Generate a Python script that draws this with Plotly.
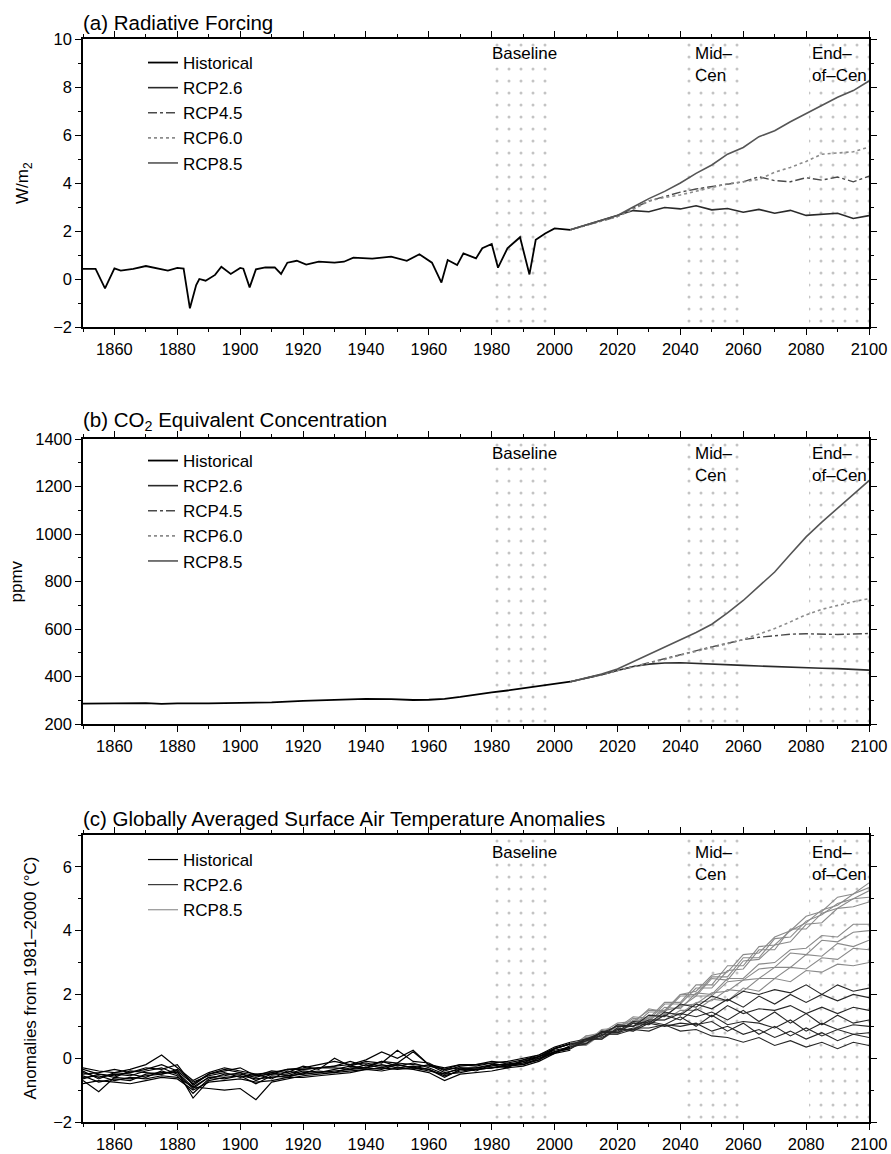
import plotly.graph_objects as go

# ---------------- (a) Radiative forcing (W/m2) ----------------
RF_HIST_YEARS = [1850, 1854, 1857, 1860, 1862, 1866, 1870, 1877, 1880, 1882,
                 1884, 1886, 1887, 1889, 1892, 1894, 1897, 1900, 1901, 1903,
                 1905, 1908, 1911, 1913, 1915, 1918, 1921, 1925, 1930, 1933,
                 1936, 1942, 1948, 1953, 1957, 1961, 1964, 1966, 1969, 1971,
                 1975, 1977, 1980, 1982, 1985, 1989, 1992, 1994, 1997, 2000,
                 2005]
RF_HIST = [0.42, 0.42, -0.39, 0.44, 0.35, 0.42, 0.54, 0.35, 0.46, 0.43,
           -1.22, -0.25, 0.0, -0.07, 0.17, 0.51, 0.21, 0.46, 0.43, -0.35,
           0.40, 0.48, 0.48, 0.21, 0.68, 0.76, 0.60, 0.72, 0.68, 0.72,
           0.89, 0.85, 0.93, 0.76, 1.03, 0.68, -0.15, 0.79, 0.58, 1.07,
           0.86, 1.28, 1.46, 0.47, 1.28, 1.74, 0.19, 1.63, 1.90, 2.11,
           2.05]

RF_RCP_YEARS = [2005, 2010, 2015, 2020, 2025, 2030, 2035, 2040, 2045, 2050,
                2055, 2060, 2065, 2070, 2075, 2080, 2085, 2090, 2095, 2100]
RF_RCP26 = [2.05, 2.25, 2.42, 2.62, 2.85, 2.80, 2.98, 2.92, 3.05, 2.88,
            2.94, 2.78, 2.90, 2.74, 2.86, 2.65, 2.70, 2.74, 2.52, 2.64]
RF_RCP45 = [2.05, 2.25, 2.42, 2.60, 2.95, 3.25, 3.45, 3.62, 3.75, 3.85,
            3.92, 4.05, 4.26, 4.10, 4.05, 4.22, 4.12, 4.25, 4.05, 4.28]
RF_RCP60 = [2.05, 2.25, 2.42, 2.60, 2.90, 3.25, 3.40, 3.50, 3.65, 3.80,
            3.97, 4.05, 4.15, 4.45, 4.65, 4.90, 5.20, 5.25, 5.30, 5.50]
RF_RCP85 = [2.05, 2.25, 2.42, 2.65, 3.00, 3.35, 3.65, 4.00, 4.40, 4.75,
            5.20, 5.48, 5.93, 6.18, 6.55, 6.90, 7.25, 7.57, 7.85, 8.25]

# ---------------- (b) CO2 equivalent concentration (ppmv) ----------------
CO2_HIST_YEARS = [1850, 1860, 1870, 1875, 1880, 1890, 1900, 1910, 1920, 1930,
                  1940, 1948, 1955, 1960, 1965, 1970, 1975, 1980, 1985, 1990,
                  1995, 2000, 2005]
CO2_HIST = [286, 287, 288, 285, 287, 287, 288, 291, 297, 302,
            306, 305, 301, 302, 306, 314, 325, 333, 341, 350,
            358, 367, 378]

CO2_RCP_YEARS = RF_RCP_YEARS
CO2_RCP26 = [378, 392, 408, 425, 442, 452, 457, 458, 456, 453,
             450, 447, 444, 441, 439, 437, 435, 433, 430, 427]
CO2_RCP45 = [378, 392, 408, 425, 442, 458, 475, 490, 508, 525,
             540, 555, 565, 573, 578, 580, 578, 577, 579, 581]
CO2_RCP60 = [378, 392, 408, 425, 440, 455, 472, 490, 505, 520,
             538, 556, 578, 602, 630, 660, 683, 700, 715, 728]
CO2_RCP85 = [378, 393, 410, 432, 462, 494, 525, 555, 585, 620,
             668, 720, 778, 840, 915, 988, 1050, 1108, 1165, 1225]

# ---------------- (c) Surface air temperature anomalies (deg C) ----------------
TAS_HIST_YEARS = list(range(1850, 2006, 5))
TAS_HIST = [
    [-0.45, -0.6, -0.5, -0.55, -0.4, -0.3, -0.5, -0.95, -0.6, -0.55, -0.45, -0.7, -0.5, -0.5, -0.35, -0.3,
     -0.25, -0.2, -0.15, -0.25, -0.2, -0.3, -0.2, -0.45, -0.35, -0.3, -0.2, -0.2, -0.1, 0.0, 0.2, 0.35],
    [-0.7, -1.05, -0.6, -0.65, -0.55, -0.5, -0.4, -1.25, -0.7, -0.6, -0.55, -0.65, -0.6, -0.55, -0.5, -0.45,
     -0.4, -0.35, -0.3, -0.2, -0.3, -0.25, -0.35, -0.55, -0.4, -0.35, -0.3, -0.25, -0.15, -0.05, 0.3, 0.45],
    [-0.3, -0.4, -0.45, -0.35, -0.2, 0.1, -0.3, -0.7, -0.45, -0.3, -0.4, -0.5, -0.45, -0.35, -0.3, -0.2,
     -0.1, -0.2, -0.05, 0.2, 0.0, 0.25, -0.2, -0.3, -0.2, -0.25, -0.15, -0.1, 0.0, 0.1, 0.35, 0.5],
    [-0.6, -0.55, -0.7, -0.6, -0.65, -0.55, -0.6, -0.9, -0.95, -1.0, -0.95, -1.3, -0.75, -0.65, -0.55, -0.5,
     -0.45, -0.4, -0.35, -0.3, -0.35, -0.3, -0.4, -0.5, -0.45, -0.35, -0.3, -0.25, -0.2, -0.05, 0.2, 0.3],
    [-0.8, -0.7, -0.75, -0.8, -0.7, -0.6, -0.65, -1.0, -0.75, -0.7, -0.65, -0.75, -0.7, -0.6, -0.6, -0.55,
     -0.5, -0.45, -0.35, -0.4, -0.3, -0.35, -0.45, -0.7, -0.5, -0.45, -0.4, -0.3, -0.25, -0.1, 0.15, 0.25],
    [-0.5, -0.45, -0.35, -0.45, -0.3, -0.35, -0.2, -0.85, -0.5, -0.4, -0.3, -0.55, -0.4, -0.45, -0.25, -0.35,
     0.0, -0.25, -0.1, -0.15, 0.25, -0.1, -0.15, -0.4, -0.25, -0.2, -0.1, -0.15, -0.05, 0.1, 0.3, 0.45],
    [-0.65, -0.5, -0.6, -0.4, -0.45, -0.5, -0.35, -0.75, -0.55, -0.45, -0.6, -0.5, -0.65, -0.4, -0.5, -0.3,
     -0.3, -0.35, -0.2, -0.3, -0.15, -0.2, -0.25, -0.35, -0.3, -0.4, -0.2, -0.3, -0.05, 0.05, 0.25, 0.35],
    [-0.4, -0.65, -0.45, -0.5, -0.6, -0.4, -0.55, -1.1, -0.65, -0.5, -0.5, -0.6, -0.45, -0.55, -0.4, -0.45,
     -0.35, -0.25, -0.3, -0.1, -0.25, -0.15, -0.3, -0.5, -0.3, -0.3, -0.25, -0.15, -0.2, 0.0, 0.15, 0.4],
    [-0.55, -0.75, -0.65, -0.7, -0.5, -0.45, -0.45, -0.9, -0.6, -0.65, -0.55, -0.8, -0.55, -0.6, -0.45, -0.4,
     -0.45, -0.3, -0.3, -0.35, -0.2, -0.3, -0.35, -0.6, -0.35, -0.35, -0.3, -0.2, -0.15, 0.05, 0.2, 0.3],
    [-0.35, -0.5, -0.55, -0.45, -0.35, -0.2, -0.4, -0.8, -0.5, -0.35, -0.45, -0.55, -0.5, -0.35, -0.35, -0.3,
     -0.25, -0.1, -0.25, -0.1, -0.15, 0.2, -0.2, -0.35, -0.2, -0.2, -0.15, -0.25, -0.1, 0.05, 0.3, 0.45],
]

TAS_RCP_YEARS = list(range(2005, 2101, 5))
TAS_RCP26 = [
    [0.3, 0.6, 0.7, 1.05, 1.0, 1.35, 1.3, 1.7, 1.6, 1.95, 1.8, 2.1, 2.0, 2.15, 2.05, 2.3, 2.0, 2.3, 2.1, 2.2],
    [0.45, 0.55, 0.8, 0.85, 1.15, 1.1, 1.45, 1.35, 1.7, 1.55, 1.85, 1.6, 1.95, 1.7, 2.0, 1.75, 2.0, 1.8, 2.0, 1.9],
    [0.35, 0.45, 0.85, 0.8, 1.1, 1.05, 1.35, 1.2, 1.55, 1.3, 1.65, 1.4, 1.55, 1.5, 1.65, 1.4, 1.6, 1.4, 1.6, 1.5],
    [0.5, 0.6, 0.8, 1.0, 1.0, 1.2, 1.2, 1.4, 1.3, 1.45, 1.2, 1.5, 1.15, 1.45, 1.1, 1.4, 1.05, 1.35, 1.1, 1.2],
    [0.3, 0.55, 0.65, 0.9, 0.9, 1.15, 1.05, 1.3, 1.0, 1.35, 1.05, 1.15, 1.1, 0.95, 1.2, 0.85, 1.1, 0.9, 1.05, 1.0],
    [0.4, 0.6, 0.6, 0.95, 0.85, 1.1, 1.0, 1.1, 1.05, 1.15, 0.85, 1.1, 0.75, 1.0, 0.7, 0.95, 0.7, 0.9, 0.75, 0.8],
    [0.35, 0.55, 0.8, 0.8, 0.95, 0.95, 1.05, 1.0, 1.1, 0.85, 1.0, 0.75, 0.9, 0.65, 0.85, 0.6, 0.8, 0.55, 0.75, 0.65],
    [0.45, 0.45, 0.75, 0.75, 0.9, 0.85, 1.05, 0.85, 0.9, 0.7, 0.65, 0.5, 0.65, 0.4, 0.55, 0.35, 0.5, 0.3, 0.5, 0.4],
]
TAS_RCP85 = [
    [0.35, 0.7, 0.8, 1.1, 1.15, 1.5, 1.5, 2.0, 2.1, 2.6, 2.7, 3.25, 3.3, 3.8, 4.0, 4.45, 4.6, 5.05, 5.15, 5.5],
    [0.45, 0.5, 0.9, 0.95, 1.3, 1.25, 1.75, 1.75, 2.3, 2.3, 2.9, 2.9, 3.5, 3.55, 4.0, 4.25, 4.65, 4.8, 5.15, 5.35],
    [0.3, 0.65, 0.7, 1.05, 1.1, 1.55, 1.45, 2.0, 2.0, 2.55, 2.55, 3.15, 3.15, 3.75, 3.8, 4.3, 4.5, 4.85, 5.0, 5.25],
    [0.5, 0.5, 0.85, 0.9, 1.25, 1.2, 1.7, 1.7, 2.2, 2.2, 2.75, 2.8, 3.4, 3.4, 4.05, 4.05, 4.55, 4.7, 5.0, 5.05],
    [0.3, 0.7, 0.7, 1.05, 1.0, 1.45, 1.45, 1.95, 1.95, 2.5, 2.45, 3.05, 3.1, 3.55, 3.65, 4.2, 4.25, 4.7, 4.75, 4.9],
    [0.35, 0.5, 0.8, 0.8, 1.2, 1.15, 1.6, 1.55, 2.05, 2.0, 2.5, 2.5, 2.95, 3.0, 3.4, 3.45, 3.85, 3.8, 4.2, 4.2],
    [0.45, 0.45, 0.85, 0.75, 1.15, 1.2, 1.5, 1.6, 1.95, 1.95, 2.4, 2.45, 2.8, 2.85, 3.3, 3.25, 3.7, 3.65, 3.95, 4.0],
    [0.3, 0.65, 0.6, 1.05, 0.9, 1.3, 1.35, 1.65, 1.7, 2.05, 2.1, 2.45, 2.5, 2.85, 2.85, 3.25, 3.2, 3.6, 3.5, 3.7],
    [0.4, 0.4, 0.75, 0.75, 1.1, 1.05, 1.4, 1.4, 1.75, 1.8, 2.15, 2.1, 2.5, 2.5, 2.85, 2.8, 3.15, 3.1, 3.45, 3.4],
    [0.35, 0.6, 0.6, 0.9, 0.85, 1.2, 1.2, 1.5, 1.5, 1.85, 1.8, 2.2, 2.1, 2.5, 2.4, 2.75, 2.7, 2.95, 2.9, 3.0],
]

# Averaging periods marked on every panel
PERIOD_START = [1981, 2041, 2081]
PERIOD_END = [2000, 2060, 2100]
PERIOD_LABELS = ["Baseline", "Mid\u2013<br>Cen", "End\u2013<br>of\u2013Cen"]

# ---------------- figure geometry (pixels) ----------------
W, H = 891, 1154
ML, MR, MT, MB = 83, 22, 39, 32
PH = H - MT - MB
PW = W - ML - MR


def dom(top_px, bottom_px):
    return [(H - MB - bottom_px) / PH, (H - MB - top_px) / PH]


FONT = "Liberation Sans, Arial, Helvetica, sans-serif"

SCEN_STYLE = {
    "Historical": dict(color="#000000", width=1.8, dash="solid"),
    "RCP2.6": dict(color="#2a2a2a", width=1.6, dash="solid"),
    "RCP4.5": dict(color="#4a4a4a", width=1.4, dash="dashdot"),
    "RCP6.0": dict(color="#8c8c8c", width=1.6, dash="dot"),
    "RCP8.5": dict(color="#555555", width=1.6, dash="solid"),
}

fig = go.Figure()

panels = [
    ("x", "y", [-2, 10]),
    ("x2", "y2", [200, 1400]),
    ("x3", "y3", [-2, 7]),
]

# stippled bands for the averaging periods
for xa, ya, yr in panels:
    fig.add_trace(go.Bar(
        x=[(s + e) / 2 for s, e in zip(PERIOD_START, PERIOD_END)],
        width=[e - s for s, e in zip(PERIOD_START, PERIOD_END)],
        y=[yr[1] - yr[0]] * len(PERIOD_START),
        base=[yr[0]] * len(PERIOD_START),
        marker=dict(color="rgba(0,0,0,0)", line=dict(width=0),
                    pattern=dict(shape=".", fgcolor="#c4c4c4", bgcolor="rgba(0,0,0,0)",
                                 size=12, solidity=0.05)),
        xaxis=xa, yaxis=ya, showlegend=False, hoverinfo="skip",
    ))


def add_line(x, y, name, xa, ya, legend, style, showlegend=True, group=None):
    fig.add_trace(go.Scatter(
        x=x, y=y, mode="lines", name=name, xaxis=xa, yaxis=ya,
        line=style, legend=legend, showlegend=showlegend,
        legendgroup=group or (legend + name),
    ))


# (a)
add_line(RF_HIST_YEARS, RF_HIST, "Historical", "x", "y", "legend", SCEN_STYLE["Historical"])
for name, vals in [("RCP2.6", RF_RCP26), ("RCP4.5", RF_RCP45),
                   ("RCP6.0", RF_RCP60), ("RCP8.5", RF_RCP85)]:
    add_line(RF_RCP_YEARS, vals, name, "x", "y", "legend", SCEN_STYLE[name])

# (b)
add_line(CO2_HIST_YEARS, CO2_HIST, "Historical", "x2", "y2", "legend2", SCEN_STYLE["Historical"])
for name, vals in [("RCP2.6", CO2_RCP26), ("RCP4.5", CO2_RCP45),
                   ("RCP6.0", CO2_RCP60), ("RCP8.5", CO2_RCP85)]:
    add_line(CO2_RCP_YEARS, vals, name, "x2", "y2", "legend2", SCEN_STYLE[name])

# (c) ensemble members
ens_style = {
    "Historical": dict(color="#000000", width=1.2),
    "RCP2.6": dict(color="#262626", width=1.1),
    "RCP8.5": dict(color="#8a8a8a", width=1.1),
}
for i, member in enumerate(TAS_HIST):
    add_line(TAS_HIST_YEARS, member, "Historical", "x3", "y3", "legend3",
             ens_style["Historical"], showlegend=(i == 0), group="c-hist")
for i, member in enumerate(TAS_RCP85):
    add_line(TAS_RCP_YEARS, member, "RCP8.5", "x3", "y3", "legend3",
             ens_style["RCP8.5"], showlegend=False, group="c-85")
for i, member in enumerate(TAS_RCP26):
    add_line(TAS_RCP_YEARS, member, "RCP2.6", "x3", "y3", "legend3",
             ens_style["RCP2.6"], showlegend=(i == 0), group="c-26")
# legend entry for RCP8.5 listed after RCP2.6
fig.add_trace(go.Scatter(x=[None], y=[None], mode="lines", name="RCP8.5", xaxis="x3", yaxis="y3",
                         line=ens_style["RCP8.5"], legend="legend3", legendgroup="c-85"))

axis_common = dict(
    showline=True, linecolor="black", linewidth=1.5, mirror="ticks",
    ticks="outside", ticklen=6, tickwidth=1.3, tickcolor="black",
    showgrid=False, zeroline=False,
    tickfont=dict(family=FONT, size=16.5, color="black"),
)
xaxis_common = dict(axis_common, range=[1850, 2100], tick0=1860, dtick=20,
                    minor=dict(ticks="outside", ticklen=3.5, tickwidth=1, tickcolor="black",
                               tick0=1850, dtick=10))

doms = [dom(39, 327), dom(439, 724), dom(835, 1122)]
ydticks = [(2, 1), (200, 100), (2, 1)]

layout = dict(
    width=W, height=H, margin=dict(l=ML, r=MR, t=MT, b=MB),
    paper_bgcolor="white", plot_bgcolor="white",
    font=dict(family=FONT, color="black"),
    template="none", barmode="overlay", bargap=0,
)
for k, ((xa, ya, yr), d, (dt, mdt)) in enumerate(zip(panels, doms, ydticks)):
    sx = "" if k == 0 else str(k + 1)
    layout["xaxis" + sx] = dict(xaxis_common, anchor="y" + sx, domain=[0, 1])
    layout["yaxis" + sx] = dict(axis_common, anchor="x" + sx, domain=d, range=yr,
                                tick0=0, dtick=dt,
                                minor=dict(ticks="outside", ticklen=3.5, tickwidth=1,
                                           tickcolor="black", dtick=mdt, tick0=0))

leg_common = dict(xanchor="left", yanchor="top", bgcolor="rgba(0,0,0,0)",
                  font=dict(family=FONT, size=17, color="black"),
                  tracegroupgap=0, itemwidth=30, traceorder="normal")
layout["legend"] = dict(leg_common, x=(143 - ML) / PW, y=(H - MB - 45) / PH)
layout["legend2"] = dict(leg_common, x=(143 - ML) / PW, y=(H - MB - 443) / PH)
layout["legend3"] = dict(leg_common, x=(143 - ML) / PW, y=(H - MB - 842) / PH)

fig.update_layout(**layout)

titles = ["(a) Radiative Forcing",
          "(b) CO<sub>2</sub> Equivalent Concentration",
          "(c) Globally Averaged Surface Air Temperature Anomalies"]
ytitles = [("W/m<sub>2</sub>", 24), ("ppmv", 16), ("Anomalies from 1981\u20132000 (\u00b0C)", 30)]
label_shift = [-3, -3, -6]

for k, (title, (yt, ypx)) in enumerate(zip(titles, ytitles)):
    sx = "" if k == 0 else str(k + 1)
    fig.add_annotation(text=title, xref="paper", x=0, xanchor="left", xshift=-2,
                       yref="y" + sx + " domain", y=1, yanchor="bottom", yshift=3,
                       showarrow=False, font=dict(family=FONT, size=20.5, color="black"))
    fig.add_annotation(text=yt, xref="paper", x=0, xanchor="center", xshift=ypx - ML,
                       yref="y" + sx + " domain", y=0.5, yanchor="middle", textangle=-90,
                       showarrow=False, font=dict(family=FONT, size=17, color="black"))
    for s, e, lab in zip(PERIOD_START, PERIOD_END, PERIOD_LABELS):
        fig.add_annotation(text=lab, xref="x" + sx, x=(s + e) / 2, xanchor="center", align="left",
                           yref="y" + sx + " domain", y=1, yanchor="top", yshift=label_shift[k],
                           showarrow=False, font=dict(family=FONT, size=17, color="black"))

fig.write_html("out.html")
